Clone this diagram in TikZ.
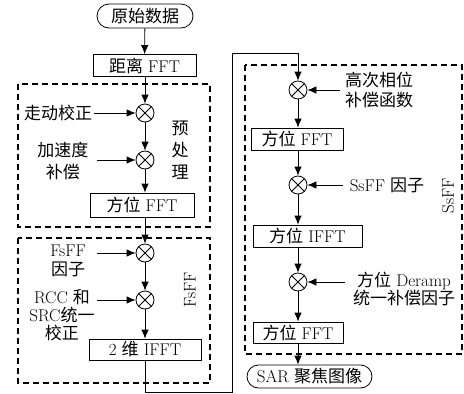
\documentclass[tikz,border=0pt]{standalone}
\usepackage{fontspec}
\newfontfamily\cjk{Noto Sans CJK SC}
\usetikzlibrary{arrows.meta,shapes.misc}
\newcommand{\zh}[1]{{\cjk #1}}
\begin{document}
\begin{tikzpicture}[x=1pt,y=-1pt,
  font=\fontsize{17}{19}\selectfont,
  procbox/.style={draw,line width=0.8pt,inner sep=0pt,minimum height=22pt},
  termbox/.style={draw,line width=0.8pt,rounded rectangle,inner sep=0pt,minimum height=24pt},
  mult/.style={draw,circle,line width=0.8pt,minimum size=18pt,inner sep=0pt,
    path picture={\draw[line width=0.8pt] (path picture bounding box.north west)--(path picture bounding box.south east)
      (path picture bounding box.north east)--(path picture bounding box.south west);}},
  arr/.style={-{Latex[length=9pt,width=7.5pt]},line width=0.8pt},
  ln/.style={line width=0.8pt},
  dbox/.style={draw,line width=1.5pt,dash pattern=on 6pt off 4pt},
  lbl/.style={inner sep=0pt,align=center}]
\useasboundingbox (0,0) rectangle (464,394);
% dashed groups
\draw[dbox] (18,84) rectangle (210,227);
\draw[dbox] (18,238) rectangle (210,383);
\draw[dbox] (245,65) rectangle (462,354);
% left column
\node[termbox,minimum width=96pt] (start) at (145,16) {\zh{原始数据}};
\node[procbox,minimum width=103pt] (r1) at (144.5,65.5) {\zh{距离} FFT};
\node[mult] (m1) at (145,113) {};
\node[lbl] (t1) at (58,113) {\zh{走动校正}};
\node[mult] (m2) at (145,160) {};
\node[lbl,font=\fontsize{17}{22}\selectfont] (t2) at (63,161) {\zh{加速度}\\\zh{补偿}};
\node[lbl,font=\fontsize{17}{22}\selectfont] (pre) at (180,150) {\zh{预}\\\zh{处}\\\zh{理}};
\node[procbox,minimum width=104pt,minimum height=24pt] (r2) at (142,205) {\zh{方位} FFT};
\node[mult] (m3) at (145,253) {};
\node[lbl] (t3) at (68,261) {FsFF\\\zh{因子}};
\node[mult] (m4) at (145,300) {};
\node[lbl,font=\fontsize{17}{18}\selectfont] (t4) at (62,315) {RCC \zh{和}\\SRC\zh{统一}\\\zh{校正}};
\node[procbox,minimum width=112pt,minimum height=21pt] (r3) at (145,349.5) {2 \zh{维} IFFT};
\node[lbl,rotate=90] (fs) at (190,290) {FsFF};
% right column
\node[mult] (m5) at (298,90) {};
\node[lbl,font=\fontsize{17}{20}\selectfont] (t5) at (379,90) {\zh{高次相位}\\\zh{补偿函数}};
\node[procbox,minimum width=92pt] (r4) at (297,139) {\zh{方位} FFT};
\node[mult] (m6) at (298,185) {};
\node[lbl] (t6) at (387,185) {SsFF \zh{因子}};
\node[procbox,minimum width=109pt] (r5) at (307.5,236) {\zh{方位} IFFT};
\node[mult] (m7) at (298,282) {};
\node[lbl,font=\fontsize{17}{18}\selectfont] (t7) at (404,289) {\zh{方位} Deramp\\\zh{统一补偿因子}};
\node[procbox,minimum width=90pt,minimum height=21pt] (r6) at (298,332.5) {\zh{方位} FFT};
\node[termbox,minimum width=125pt,minimum height=23pt] (end) at (309.5,376.5) {SAR \zh{聚焦图像}};
\node[lbl,rotate=90] (ss) at (448,196) {SsFF};
\coordinate (c1) at (145,392);
\coordinate (c2) at (232,392);
\coordinate (c3) at (232,53);
\coordinate (c4) at (298,53);
% connectors left
\draw[arr] (start) -- (r1);
\draw[arr] (r1.south -| m1) -- (m1);
\draw[arr] (m1) -- (m2);
\draw[arr] (m2) -- (r2.north -| m2);
\draw[arr] (r2.south -| m3) -- (m3);
\draw[arr] (m3) -- (m4);
\draw[arr] (m4) -- (r3);
\draw[arr] ([xshift=2pt]t1.east) -- (m1);
\draw[arr] (97,160) -- (m2);
\draw[arr] (97,253) -- (m3);
\draw[arr] (97,300) -- (m4);
% link
\draw[ln] (r3.south) -- (c1) -- (c2) -- (c3) -- (c4);
\draw[arr] (c4) -- (m5);
% connectors right
\draw[arr] (m5) -- (r4.north -| m5);
\draw[arr] (r4.south -| m6) -- (m6);
\draw[arr] (m6) -- (r5.north -| m6);
\draw[arr] (r5.south -| m7) -- (m7);
\draw[arr] (m7) -- (r6);
\draw[arr] (r6) -- (r6 |- end.north);
\draw[arr] (340,90) -- (m5);
\draw[arr] (343,185) -- (m6);
\draw[arr] (345,282) -- (m7);
\end{tikzpicture}
\end{document}
